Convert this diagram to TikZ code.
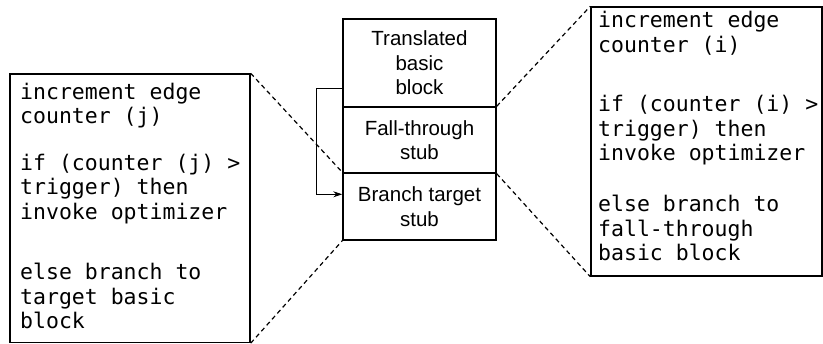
\documentclass[tikz,border=0pt]{standalone}
\usepackage{fontspec}
\setmainfont{Liberation Sans}
\newfontfamily\monofont{DejaVu Sans Mono}
\usetikzlibrary{arrows.meta,calc}
\begin{document}
\begin{tikzpicture}[x=1pt,y=-1pt,
  boxline/.style={draw=black,line width=1.4pt},
  midcell/.style={boxline,rectangle,minimum width=153pt,inner sep=0pt,align=center,font=\fontsize{20.5}{24.5}\selectfont},
  codebox/.style={boxline,rectangle,inner sep=0pt},
  codetext/.style={inner sep=0pt,anchor=base west,align=left,font=\monofont\fontsize{21.5}{24.5}\selectfont},
  dashline/.style={line width=1.2pt,dash pattern=on 4.5pt off 3.5pt},
  flow/.style={line width=0.9pt,-{Stealth[length=9pt,width=6pt]}}]
\useasboundingbox (0,0) rectangle (823,344);
% middle stack
\node[midcell,minimum height=88pt] (tbb) at (419.5,63) {Translated\\basic\\block};
\node[midcell,minimum height=66pt] (ftb) at (419.5,140) {Fall-through\\stub};
\node[midcell,minimum height=67pt] (bts) at (419.5,206.5) {Branch target\\stub};
% side boxes
\node[codebox,minimum width=240pt,minimum height=268.5pt] (lbox) at (130,208.25) {};
\node[codebox,minimum width=231pt,minimum height=269pt] (rbox) at (706.5,141.5) {};
\node[codetext] (ltext) at (20,329) {increment edge\\counter (j)\\[22pt]if (counter (j) >\\trigger) then\\invoke optimizer\\[36pt]else branch to\\target basic\\block};
\node[codetext] (rtext) at (598,261) {increment edge\\counter (i)\\[35pt]if (counter (i) >\\trigger) then\\invoke optimizer\\[26.5pt]else branch to\\fall-through\\basic block};
% connectors
\coordinate (a1) at ($(tbb.north west)+(0,70)$);
\coordinate (a2) at ($(bts.north west)+(0,22)$);
\draw[flow] (a1) -- ++(-26,0) |- (a2);
\draw[dashline] (lbox.north east) -- (bts.north west);
\draw[dashline] (lbox.south east) -- (bts.south west);
\draw[dashline] (ftb.north east) -- (rbox.north west);
\draw[dashline] (ftb.south east) -- (rbox.south west);
\end{tikzpicture}
\end{document}
